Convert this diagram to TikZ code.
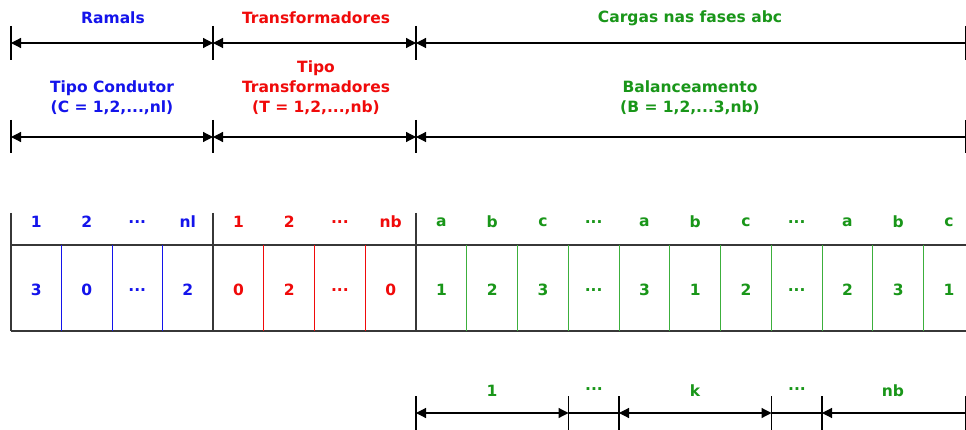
\documentclass[tikz,border=0pt]{standalone}
\usepackage{fontspec}
\setmainfont{DejaVu Sans}
\usetikzlibrary{arrows.meta}
\definecolor{cblue}{RGB}{20,20,235}
\definecolor{cred}{RGB}{240,10,10}
\definecolor{cgreen}{RGB}{25,150,25}
\definecolor{lgreen}{RGB}{60,175,60}
\definecolor{tline}{RGB}{55,55,55}
\newcommand{\mydots}{...}
\begin{document}
\begin{tikzpicture}[x=1pt,y=-1pt,
  lbl/.style={font=\fontsize{15.5}{20}\selectfont\bfseries, inner sep=0pt, align=center},
  dimline/.style={line width=1.2pt, black},
  tick/.style={line width=1.2pt, black},
  both/.style={dimline, {Triangle[length=10pt,width=10pt]}-{Triangle[length=10pt,width=10pt]}},
  lefta/.style={dimline, {Triangle[length=10pt,width=10pt]}-},
  frame/.style={line width=1.3pt, tline},
  sepb/.style={line width=1pt, cblue},
  sepr/.style={line width=1pt, cred},
  sepg/.style={line width=1pt, lgreen}]
\useasboundingbox (0,0) rectangle (966,430);
\fill[white] (0,0) rectangle (966,430);

% ---- top dimension row ----
\coordinate (a1) at (11,43);
\coordinate (a2) at (213,43);
\coordinate (a3) at (416,43);
\coordinate (a4) at (966,43);
\foreach \x in {11,213,416,965.5}{
  \draw[tick] (\x,26) -- (\x,60);
}
\draw[both] (a1) -- (a2);
\draw[both] (a2) -- (a3);
\draw[lefta] (a3) -- (a4);
\node[lbl,text=cblue] (ramals) at (113,18) {Ramals};
\node[lbl,text=cred] (trafo) at (316,18) {Transformadores};
\node[lbl,text=cgreen] (cargas) at (690,18) {Cargas nas fases abc};

% ---- second dimension row ----
\coordinate (b1) at (11,137);
\coordinate (b2) at (213,137);
\coordinate (b3) at (416,137);
\coordinate (b4) at (966,137);
\foreach \x in {11,213,416,965.5}{
  \draw[tick] (\x,120) -- (\x,153);
}
\draw[both] (b1) -- (b2);
\draw[both] (b2) -- (b3);
\draw[lefta] (b3) -- (b4);
\node[lbl,text=cblue] (tcond) at (112,98) {Tipo Condutor\\(C = 1,2,...,nl)};
\node[lbl,text=cred] (ttrafo) at (316,88) {Tipo\\Transformadores\\(T = 1,2,...,nb)};
\node[lbl,text=cgreen] (bal) at (690,98) {Balanceamento\\(B = 1,2,...3,nb)};

% ---- table ----
\draw[frame] (11,245) -- (966,245);
\draw[frame] (11,331) -- (966,331);
\foreach \x in {11,213,416}{
  \draw[frame] (\x,213) -- (\x,331);
}
\foreach \k in {1,2,3}{
  \draw[sepb] (11+50.5*\k,245) -- (11+50.5*\k,331);
  \draw[sepr] (213+50.75*\k,245) -- (213+50.75*\k,331);
}
\foreach \k in {1,...,10}{
  \draw[sepg] (416+50.75*\k,245) -- (416+50.75*\k,331);
}
% blue columns
\foreach \i/\h/\b in {0/1/3,1/2/0,2/\mydots/\mydots,3/nl/2}{
  \node[lbl,text=cblue] (bh\i) at (36.25+50.5*\i,222) {\h};
  \node[lbl,text=cblue] (bb\i) at (36.25+50.5*\i,290) {\b};
}
% red columns
\foreach \i/\h/\b in {0/1/0,1/2/2,2/\mydots/\mydots,3/nb/0}{
  \node[lbl,text=cred] (rh\i) at (238.4+50.75*\i,222) {\h};
  \node[lbl,text=cred] (rb\i) at (238.4+50.75*\i,290) {\b};
}
% green columns
\foreach \i/\h/\b in {0/a/1,1/b/2,2/c/3,3/\mydots/\mydots,4/a/3,5/b/1,6/c/2,7/\mydots/\mydots,8/a/2,9/b/3,10/c/1}{
  \node[lbl,text=cgreen] (gh\i) at (441.4+50.75*\i,222) {\h};
  \node[lbl,text=cgreen] (gb\i) at (441.4+50.75*\i,290) {\b};
}

% ---- bottom dimension row ----
\coordinate (c1) at (416,413);
\coordinate (c2) at (568.5,413);
\coordinate (c3) at (619,413);
\coordinate (c4) at (771.5,413);
\coordinate (c5) at (822,413);
\coordinate (c6) at (966,413);
\foreach \x in {416,568.5,619,771.5,822,965.5}{
  \draw[tick] (\x,396) -- (\x,432);
}
\draw[both] (c1) -- (c2);
\draw[dimline] (c2) -- (c3);
\draw[both] (c3) -- (c4);
\draw[dimline] (c4) -- (c5);
\draw[lefta] (c5) -- (c6);
\node[lbl,text=cgreen] (k1) at (492,391) {1};
\node[lbl,text=cgreen] (kd1) at (594,389) {\mydots};
\node[lbl,text=cgreen] (kk) at (695,391) {k};
\node[lbl,text=cgreen] (kd2) at (797,389) {\mydots};
\node[lbl,text=cgreen] (knb) at (893,391) {nb};
\end{tikzpicture}
\end{document}
